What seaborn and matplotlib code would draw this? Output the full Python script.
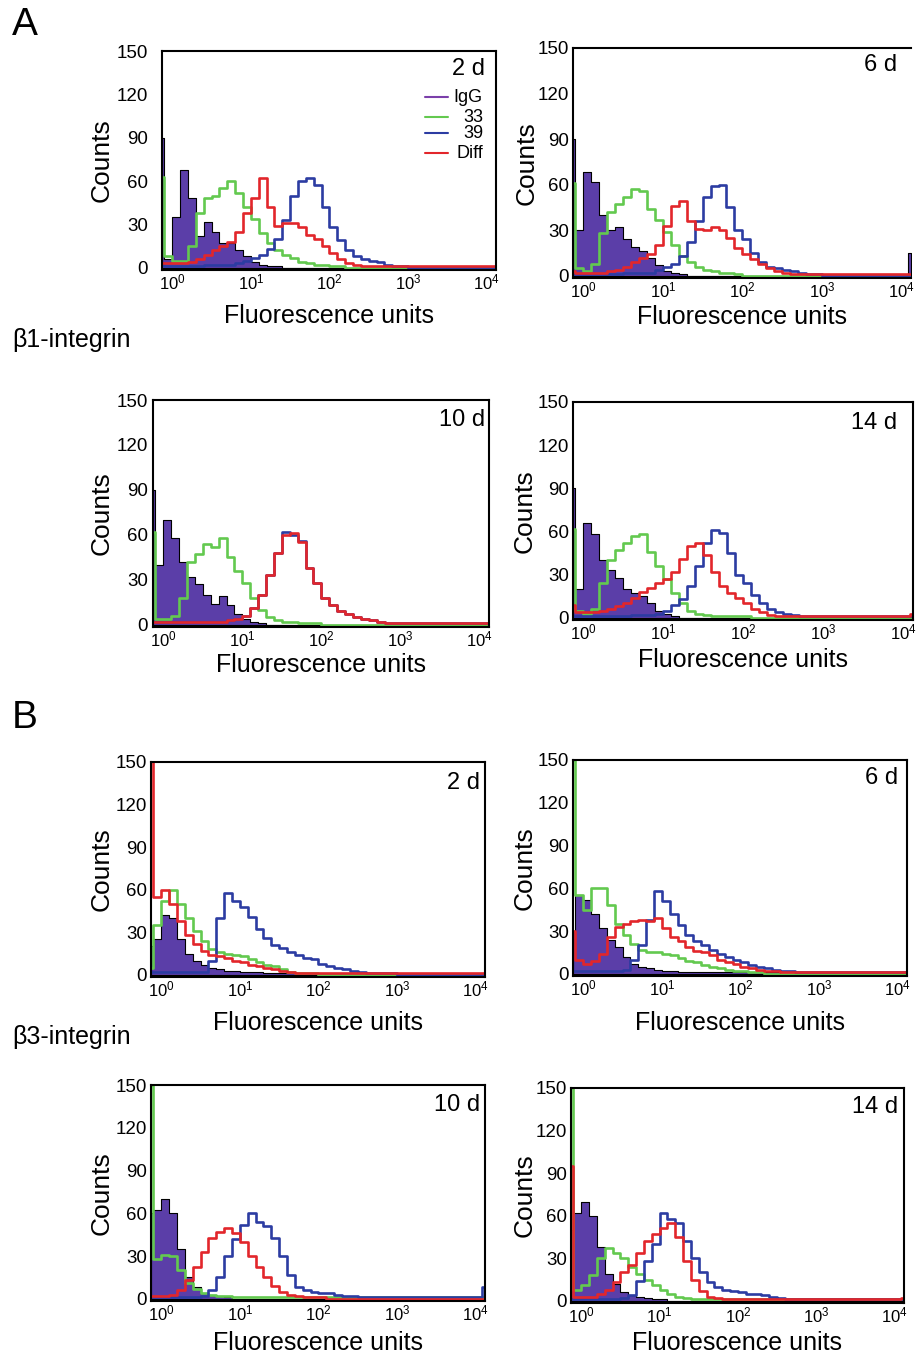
import numpy as np
import matplotlib.pyplot as plt
import seaborn as sns

# -------------------- Style Settings --------------------
sns.set_theme(style="white")
plt.rcParams["font.family"] = ["Liberation Sans", "DejaVu Sans"]
plt.rcParams["mathtext.fontset"] = "custom"
plt.rcParams["mathtext.rm"] = "Liberation Sans"
plt.rcParams["mathtext.it"] = "Liberation Sans:italic"
plt.rcParams["text.color"] = "black"

# -------------------- Data (counts per log10 channel bin) --------------------
# bins: first-channel spike, 0.1-decade bins from 10^-0.1 to 10^3, wide tail, last channel
edges = [-0.13, -0.10, 0.0, 0.1, 0.2, 0.3, 0.4, 0.5, 0.6, 0.7, 0.8, 0.9,
         1.0, 1.1, 1.2, 1.3, 1.4, 1.5, 1.6, 1.7, 1.8, 1.9, 2.0, 2.1, 2.2,
         2.3, 2.4, 2.5, 2.6, 2.7, 2.8, 2.9, 3.0, 4.08, 4.12]

# beta1-integrin
a1_igg = [90, 6, 35, 68, 48, 22, 32, 25, 17, 17, 12, 8, 4, 2, 1, 1, 0, 0, 0, 0, 0,
          0, 0, 0, 0, 0, 0, 0, 0, 0, 0, 0, 0, 0]
a1_33 = [63, 8, 5, 5, 15, 38, 48, 50, 55, 60, 52, 42, 34, 24, 17, 12, 9, 7, 4, 3, 2,
         2, 1, 1, 0, 0, 0, 0, 0, 0, 0, 0, 0, 0]
a1_39 = [2, 1, 1, 1, 1, 1, 2, 2, 2, 2, 3, 5, 7, 9, 13, 20, 33, 50, 60, 62, 57,
         42, 28, 19, 12, 8, 6, 5, 4, 2, 1, 1, 0, 0]
a1_diff = [3, 3, 3, 3, 4, 6, 9, 12, 15, 18, 25, 38, 48, 62, 42, 29, 31, 31, 28, 23, 20,
           15, 10, 6, 3, 2, 1, 1, 1, 1, 1, 1, 1, 1]

a2_igg = [90, 30, 68, 62, 40, 30, 32, 24, 19, 16, 12, 7, 3, 2, 1, 0, 0, 0, 0, 0, 0,
          0, 0, 0, 0, 0, 0, 0, 0, 0, 0, 0, 0, 15]
a2_33 = [61, 5, 3, 8, 28, 42, 47, 52, 57, 56, 44, 37, 29, 20, 13, 9, 6, 4, 3, 2, 2,
         1, 0, 0, 0, 0, 0, 0, 0, 0, 0, 0, 0, 0]
a2_39 = [1, 1, 1, 1, 1, 1, 1, 2, 2, 2, 2, 4, 6, 8, 13, 22, 36, 52, 59, 60, 45,
         30, 24, 15, 9, 6, 5, 4, 3, 2, 1, 1, 0, 0]
a2_diff = [3, 2, 2, 2, 2, 3, 4, 6, 9, 12, 14, 20, 33, 46, 49, 36, 31, 30, 32, 30, 25,
           18, 14, 11, 8, 5, 3, 2, 1, 1, 1, 1, 1, 1]

a3_igg = [90, 40, 70, 58, 42, 32, 27, 20, 14, 19, 13, 7, 4, 2, 1, 0, 0, 0, 0, 0, 0,
          0, 0, 0, 0, 0, 0, 0, 0, 0, 0, 0, 0, 1]
a3_33 = [62, 4, 4, 6, 18, 42, 47, 54, 52, 58, 45, 36, 28, 18, 10, 5, 3, 2, 2, 1, 1,
         1, 0, 0, 0, 0, 0, 0, 0, 0, 0, 0, 0, 0]
a3_39 = [2, 2, 2, 2, 2, 2, 2, 2, 2, 2, 3, 4, 6, 11, 20, 33, 48, 62, 60, 56, 38,
         28, 18, 13, 9, 7, 5, 4, 3, 2, 1, 1, 1, 1]
a3_diff = [2, 2, 2, 2, 2, 2, 2, 2, 2, 2, 3, 4, 6, 11, 20, 33, 48, 60, 61, 55, 38,
           28, 18, 13, 9, 7, 5, 4, 3, 2, 1, 1, 1, 1]

a4_igg = [90, 20, 66, 58, 40, 33, 28, 20, 17, 15, 10, 5, 3, 1, 0, 0, 0, 0, 0, 0, 0,
          0, 0, 0, 0, 0, 0, 0, 0, 0, 0, 0, 0, 2]
a4_33 = [62, 5, 3, 6, 24, 40, 47, 52, 57, 58, 46, 36, 27, 17, 10, 5, 3, 2, 1, 1, 1,
         1, 1, 0, 0, 0, 0, 0, 0, 0, 0, 0, 0, 0]
a4_39 = [1, 1, 1, 1, 1, 1, 1, 1, 2, 2, 2, 3, 5, 9, 13, 22, 36, 52, 61, 59, 45,
         30, 24, 16, 10, 6, 4, 3, 2, 1, 1, 1, 1, 1]
a4_diff = [9, 4, 4, 4, 5, 6, 8, 10, 14, 18, 21, 24, 27, 32, 41, 50, 52, 44, 32, 22, 17,
           14, 10, 6, 4, 2, 1, 1, 1, 1, 1, 1, 1, 3]

# beta3-integrin
b1_igg = [20, 25, 42, 40, 25, 15, 10, 7, 5, 4, 3, 3, 2, 2, 2, 1, 1, 1, 1, 1, 1,
          1, 1, 1, 1, 1, 1, 1, 0, 0, 0, 0, 0, 0]
b1_33 = [5, 35, 52, 60, 50, 40, 31, 24, 18, 16, 15, 14, 13, 11, 9, 7, 6, 4, 2, 1, 1,
         1, 0, 0, 0, 0, 0, 0, 0, 0, 0, 0, 0, 0]
b1_39 = [2, 2, 2, 2, 2, 2, 2, 2, 10, 40, 58, 52, 48, 41, 32, 26, 21, 19, 16, 14, 12,
         11, 8, 6, 5, 4, 3, 2, 1, 1, 1, 1, 0, 0]
b1_diff = [155, 55, 60, 50, 38, 28, 22, 17, 14, 13, 12, 10, 9, 7, 6, 5, 4, 3, 2, 1, 1,
           1, 1, 1, 1, 1, 1, 1, 1, 1, 1, 1, 1, 1]

b2_igg = [30, 55, 52, 42, 32, 24, 19, 12, 7, 5, 4, 3, 2, 2, 1, 1, 1, 1, 1, 1, 1,
          1, 1, 1, 1, 1, 1, 0, 0, 0, 0, 0, 0, 0]
b2_33 = [150, 55, 45, 60, 60, 48, 35, 27, 21, 17, 15, 15, 14, 13, 11, 9, 8, 6, 5, 4, 3,
         2, 2, 1, 1, 0, 0, 0, 0, 0, 0, 0, 0, 0]
b2_39 = [2, 2, 2, 2, 2, 2, 2, 3, 10, 20, 38, 58, 51, 42, 34, 27, 23, 20, 17, 14, 12,
         10, 8, 6, 5, 4, 3, 2, 2, 1, 1, 1, 1, 1]
b2_diff = [30, 10, 7, 9, 14, 26, 33, 35, 37, 38, 37, 39, 32, 26, 23, 19, 16, 15, 13, 10, 8,
           7, 5, 4, 3, 2, 2, 1, 1, 1, 1, 1, 1, 1]

b3_igg = [60, 62, 70, 60, 35, 15, 8, 4, 3, 2, 1, 0, 0, 0, 0, 0, 0, 0, 0, 0, 0,
          0, 0, 0, 0, 0, 0, 0, 0, 0, 0, 0, 0, 0]
b3_33 = [150, 28, 31, 30, 20, 11, 7, 4, 3, 2, 2, 1, 1, 1, 1, 1, 1, 1, 1, 1, 1,
         1, 1, 1, 1, 1, 1, 1, 1, 1, 1, 1, 1, 1]
b3_39 = [1, 1, 1, 1, 1, 1, 1, 2, 6, 15, 30, 42, 52, 60, 54, 51, 43, 30, 17, 8, 6,
         5, 4, 4, 3, 2, 2, 1, 1, 1, 1, 1, 1, 8]
b3_diff = [2, 2, 2, 3, 6, 13, 22, 33, 43, 47, 50, 46, 40, 30, 22, 15, 9, 5, 3, 2, 1,
           1, 1, 0, 0, 0, 0, 0, 0, 0, 0, 0, 0, 0]

b4_igg = [50, 62, 70, 60, 38, 19, 12, 6, 4, 3, 2, 1, 1, 0, 0, 0, 0, 0, 0, 0, 0,
          0, 0, 0, 0, 0, 0, 0, 0, 0, 0, 0, 0, 0]
b4_33 = [150, 8, 11, 18, 30, 37, 34, 30, 24, 19, 15, 11, 8, 5, 3, 2, 1, 1, 1, 1, 1,
         1, 1, 1, 1, 1, 1, 1, 1, 1, 1, 1, 1, 1]
b4_39 = [1, 1, 1, 1, 1, 1, 1, 2, 4, 14, 28, 40, 62, 58, 55, 42, 30, 20, 13, 10, 8,
         7, 6, 5, 5, 4, 3, 2, 1, 1, 1, 1, 1, 1]
b4_diff = [95, 3, 3, 3, 5, 8, 13, 20, 25, 34, 42, 47, 51, 55, 45, 28, 15, 7, 3, 2, 1,
           1, 1, 1, 1, 1, 1, 1, 1, 1, 1, 1, 1, 2]

days = ["2 d", "6 d", "10 d", "14 d", "2 d", "6 d", "10 d", "14 d"]
legend_labels = ["IgG", "33", "39", "Diff"]
x_ticks = [0, 1, 2, 3, 4]
x_ticklabels = [r"$\mathregular{10^{%d}}$" % k for k in x_ticks]
y_ticks = [0, 30, 60, 90, 120, 150]

# -------------------- Layout (pixels) --------------------
W, H = 920, 1358
# left, top, right, zero line, ylabel offset, xlabel baseline below zero, ytick pad, day-label inset (right, down)
layout = [
    (162, 51, 496, 268, 60, 55, 14, 11, 18),
    (573, 48, 911, 276, 46, 48, 4, 14, 17),
    (153, 400, 489, 625, 51, 47, 5, 4, 20),
    (573, 402, 913, 618, 48, 49, 4, 16, 21),
    (151, 762, 485, 975, 49, 55, 4, 5, 21),
    (573, 760, 907, 974, 48, 56, 4, 9, 18),
    (151, 1085, 485, 1299, 49, 51, 4, 5, 20),
    (571, 1088, 904, 1301, 46, 49, 4, 6, 19),
]

panels = [
    (a1_igg, a1_33, a1_39, a1_diff),
    (a2_igg, a2_33, a2_39, a2_diff),
    (a3_igg, a3_33, a3_39, a3_diff),
    (a4_igg, a4_33, a4_39, a4_diff),
    (b1_igg, b1_33, b1_39, b1_diff),
    (b2_igg, b2_33, b2_39, b2_diff),
    (b3_igg, b3_33, b3_39, b3_diff),
    (b4_igg, b4_33, b4_39, b4_diff),
]

igg_fill = "#5B3EA8"
igg_line = "#7B3FAA"
c33 = "#63C94F"
c39 = "#2C3CA2"
cdiff = "#E2262B"

centers = (np.array(edges[:-1]) + np.array(edges[1:])) / 2

fig = plt.figure(figsize=(W / 100, H / 100), dpi=100)

for i, (curves, lay, day) in enumerate(zip(panels, layout, days)):
    l, t, r, z, yoff, xoff, ypad, rin, dn = lay
    b = z + 2
    ax = fig.add_axes([l / W, 1 - b / H, (r - l) / W, (b - t) / H])
    igg, s33, s39, diff = curves

    sns.histplot(x=centers, weights=igg, bins=edges, element="step", fill=True,
                 color=igg_fill, edgecolor="black", linewidth=0.8, alpha=1, ax=ax)
    for vals, col in [(s33, c33), (s39, c39), (diff, cdiff)]:
        sns.histplot(x=centers, weights=vals, bins=edges, element="step", fill=False,
                     color=col, linewidth=1.9, ax=ax)

    ax.set_xlim(-0.13, 4.12)
    ax.set_ylim(-1.5, 150)
    ax.set_xticks(x_ticks)
    ax.set_xticklabels(x_ticklabels)
    ax.set_yticks(y_ticks)
    ax.tick_params(axis="x", length=0, pad=2, labelsize=12, colors="black")
    ax.tick_params(axis="y", length=0, pad=ypad * 0.72, labelsize=13.5, colors="black")
    for sp in ax.spines.values():
        sp.set_color("black")
        sp.set_linewidth(1.5)
    if i == 1:
        ax.spines["right"].set_visible(False)

    wpx, hpx = r - l, b - t
    ax.set_ylabel("Counts", fontsize=19, color="black")
    ax.yaxis.label.set_va("center")
    ax.yaxis.set_label_coords(-yoff / wpx, 0.5)
    ax.set_xlabel("Fluorescence units", fontsize=18, color="black")
    ax.xaxis.label.set_va("baseline")
    ax.xaxis.set_label_coords(0.5, -(xoff - 2) / hpx)

    ax.text(1 - rin / wpx, 1 - dn / hpx, day, transform=ax.transAxes,
            ha="right", va="center", fontsize=17)

    if i == 0:
        rows_y = [97, 117, 133, 153]
        for lab, col, yy in zip(legend_labels, [igg_line, c33, c39, cdiff], rows_y):
            fy = (b - yy) / hpx
            ax.plot([(425 - l) / wpx, (448 - l) / wpx], [fy, fy], transform=ax.transAxes,
                    color=col, linewidth=1.5)
            ax.text((483 - l) / wpx, fy, lab, transform=ax.transAxes,
                    ha="right", va="center", fontsize=13)

# -------------------- Panel letters and row labels --------------------
fig.text(25 / W, 1 - 25 / H, "A", fontsize=28, ha="center", va="center")
fig.text(25 / W, 1 - 718 / H, "B", fontsize=28, ha="center", va="center")
fig.text(12 / W, 1 - 340 / H, "β1-integrin", fontsize=18, ha="left", va="center")
fig.text(12 / W, 1 - 1037 / H, "β3-integrin", fontsize=18, ha="left", va="center")

fig.savefig("out.png", dpi=100)
plt.close()
